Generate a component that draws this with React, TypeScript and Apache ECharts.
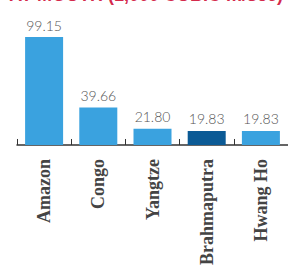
import React, { useEffect, useRef } from "react";
import * as echarts from "echarts";

const categories = ["Amazon", "Congo", "Yangtze", "Brahmaputra", "Hwang Ho"];
const values = [99.15, 39.66, 21.8, 19.83, 19.83];
const valueLabels = ["99.15", "39.66", "21.80", "19.83", "19.83"];
const highlighted = ["Brahmaputra"];
const titleText = "AT MOUTH (1,000 CUBIC m/sec)";

export default function App() {
  const ref = useRef<HTMLDivElement>(null);
  useEffect(() => {
    if (!ref.current) return;
    const chart = echarts.init(ref.current, undefined, { renderer: "svg" });
    chart.setOption({
      animation: false,
      backgroundColor: "#ffffff",
      graphic: [
        {
          type: "text",
          right: 5,
          top: -14,
          style: {
            text: titleText,
            fill: "#d42a4c",
            font: "bold 18px 'Liberation Sans', sans-serif",
          },
        },
      ],
      grid: { left: 17, right: -4, top: 37, bottom: 121, containLabel: false },
      xAxis: {
        type: "category",
        data: categories,
        axisLine: { show: true, lineStyle: { color: "#333333", width: 1.5 } },
        axisTick: { show: true, inside: true, length: 6, lineStyle: { color: "#333333", width: 1 } },
        axisLabel: {
          rotate: 90,
          margin: 14,
          color: "#444444",
          fontFamily: "'Liberation Serif', serif",
          fontWeight: "bold",
          fontSize: 18,
        },
      },
      yAxis: {
        type: "value",
        min: 8,
        max: 99.15,
        show: false,
        splitLine: { show: false },
      },
      series: [
        {
          type: "bar",
          barWidth: 38,
          data: values.map((v, i) => ({
            value: v,
            itemStyle: { color: highlighted.includes(categories[i]) ? "#0b5a95" : "#3aa2df" },
          })),
          label: {
            show: true,
            position: "top",
            distance: 5,
            color: "#555555",
            fontFamily: "Lato, sans-serif",
            fontWeight: 300,
            fontSize: 14,
            formatter: (p: any) => valueLabels[p.dataIndex],
          },
        },
      ],
    });
    return () => chart.dispose();
  }, []);
  return (
    <div
      ref={ref}
      style={{ position: "fixed", left: 0, top: 0, width: 288, height: 268 }}
    />
  );
}
